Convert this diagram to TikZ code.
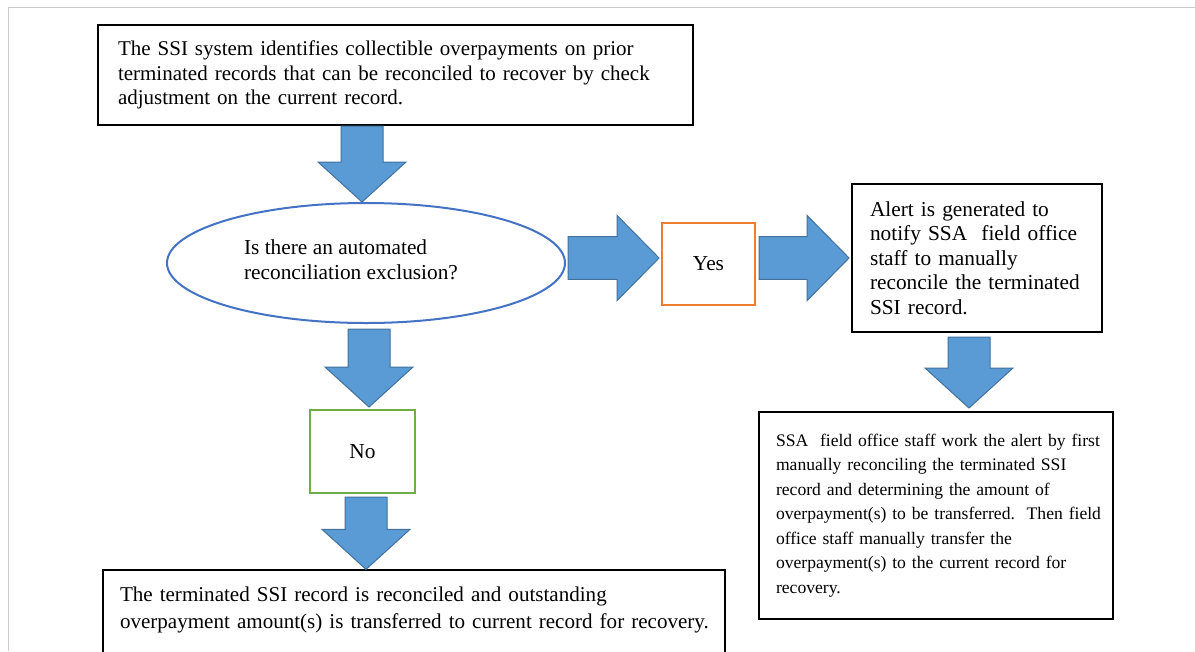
\documentclass[tikz,border=0pt]{standalone}
\usepackage{fontspec}
\setmainfont{Liberation Serif}
\usetikzlibrary{shapes.geometric,calc}
\definecolor{ablue}{RGB}{91,155,213}
\definecolor{ablueline}{RGB}{65,113,156}
\definecolor{ellline}{RGB}{68,114,196}
\definecolor{yesline}{RGB}{237,125,49}
\definecolor{noline}{RGB}{112,173,71}
\definecolor{frameline}{RGB}{204,204,204}
\newcommand\dblock[2]{\draw[blockarrow] let \p1=(#1), \p2=(#2) in
  (\x1-15.75pt,\y1) -- (\x1-15.75pt,\y2+30pt) -- (\x1-33pt,\y2+30pt) -- (\x1,\y2)
  -- (\x1+33pt,\y2+30pt) -- (\x1+15.75pt,\y2+30pt) -- (\x1+15.75pt,\y1) -- cycle;}
\newcommand\rblock[2]{\draw[blockarrow] let \p1=(#1), \p2=(#2) in
  (\x1,\y1+16pt) -- (\x2-31.5pt,\y1+16pt) -- (\x2-31.5pt,\y1+32pt) -- (\x2,\y1)
  -- (\x2-31.5pt,\y1-32pt) -- (\x2-31.5pt,\y1-16pt) -- (\x1,\y1-16pt) -- cycle;}
\newcommand\tline[1]{\mbox{#1}}
\begin{document}
\begin{tikzpicture}[x=0.75pt,y=-0.75pt,
  txt/.style={font=\fontsize{16pt}{18.4pt}\selectfont},
  box/.style={txt,draw=black,line width=1.5pt,align=left,inner ysep=0pt},
  blockarrow/.style={fill=ablue,draw=ablueline,line width=0.75pt,line join=miter},
  choice/.style={txt,draw,line width=1.5pt,inner sep=0pt}]
\clip (0,0) rectangle (1195,651);
\fill[white] (0,0) rectangle (1195,651);
\draw[frameline,line width=0.75pt] (8,651) -- (8,7) -- (1195,7);

\node[box,font=\fontsize{15.75pt}{18.4pt}\selectfont,inner xsep=15pt,minimum width=446.25pt,minimum height=75pt,text width=416.25pt] (top) at (395.5,75)
 {\tline{The SSI system identifies collectible overpayments on prior}\\\tline{terminated records that can be reconciled to recover by check}\\\tline{adjustment on the current record.}};

\node[ellipse,draw=ellline,line width=1.5pt,minimum width=298.5pt,minimum height=90pt,inner sep=0pt] (ell) at (366,263) {};
\node[txt,align=left] (elltext) at (351,260) {Is there an automated\\reconciliation exclusion?};

\node[choice,draw=yesline,minimum width=69.75pt,minimum height=61.5pt] (yes) at (708.5,264) {Yes};
\node[choice,draw=noline,minimum width=78.75pt,minimum height=62.25pt] (no) at (362.5,451.5) {No};

\node[box,inner xsep=13.5pt,minimum width=187.5pt,minimum height=111pt,text width=160.5pt] (alert) at (977,258)
 {\tline{Alert is generated to}\\\tline{notify SSA~~field office}\\\tline{staff to manually}\\\tline{reconcile the terminated}\\\tline{SSI record.}};

\node[box,font=\fontsize{13.2pt}{18.4pt}\selectfont,inner xsep=12.75pt,minimum width=265.5pt,minimum height=155.25pt,text width=240pt] (right) at (936,515.5)
 {\tline{SSA~~field office staff work the alert by first}\\\tline{manually reconciling the terminated SSI}\\\tline{record and determining the amount of}\\\tline{overpayment(s) to be transferred.~~Then field}\\\tline{office staff manually transfer the}\\\tline{overpayment(s) to the current record for}\\\tline{recovery.}};

\node[box,font=\fontsize{15.8pt}{20pt}\selectfont,inner xsep=12.75pt,minimum width=466.5pt,minimum height=76pt,text width=441pt] (bot) at (414,621)
 {\tline{The terminated SSI record is reconciled and outstanding}\\\tline{overpayment amount(s) is transferred to current record for recovery.}\\\mbox{}};

\dblock{top.south -| 362,0}{ell.north -| 362,0}
\dblock{$(ell.south -| 369,0)+(0,5)$}{$(no.north -| 369,0)+(0,-2)$}
\dblock{$(no.south -| 366,0)+(0,3)$}{bot.north -| 366,0}
\dblock{$(alert.south -| 969,0)+(0,4)$}{$(right.north -| 969,0)+(0,-3)$}
\rblock{$(ell.east)+(2,-5)$}{$(yes.west)+(-2,-6)$}
\rblock{$(yes.east)+(3,-6)$}{$(alert.west)+(-2,0)$}
\end{tikzpicture}
\end{document}
